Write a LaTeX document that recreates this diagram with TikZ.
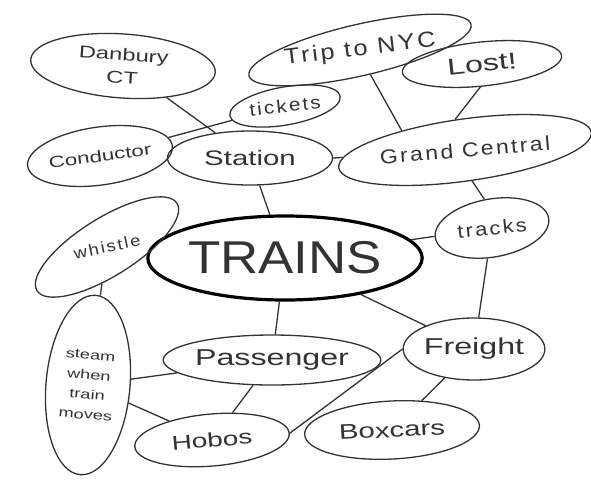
\documentclass[tikz,border=0pt]{standalone}
\usepackage{fontspec}
\setmainfont{Liberation Sans}
\newfontfamily\hand[FakeStretch=1.4]{Liberation Sans}
\newfontfamily\handS[FakeStretch=1.15,LetterSpace=12]{Liberation Sans}
\newfontfamily\handT[FakeStretch=1.15]{Liberation Sans}
\usetikzlibrary{shapes.geometric,calc}
\begin{document}
\begin{tikzpicture}[x=1pt,y=-1pt,
  bub/.style={ellipse,draw=black!80,line width=1.3pt,inner sep=0pt,align=center,text=black!80,font=\hand\fontsize{20}{21}\selectfont},
  fs/.style={font=\hand\fontsize{#1}{#1}\selectfont},
  fsp/.style={font=\handS\fontsize{#1}{#1}\selectfont},
  link/.style={draw=black!80,line width=1.3pt}]
\useasboundingbox[fill=white] (0,0) rectangle (591,488);
% nodes
\node[bub,fs=17,minimum width=185pt,minimum height=64pt,rotate=-4] (danbury) at (123,66) {Danbury\\[6pt]CT};
\node[bub,fsp=22,minimum width=228pt,minimum height=48pt,rotate=13] (trip) at (360,50) {\rotatebox{-6}{Trip to NYC}};
\node[bub,fs=23,minimum width=160pt,minimum height=44pt,rotate=6] (lost) at (482,64) {Lost!};
\node[bub,fsp=18,minimum width=112pt,minimum height=38pt,rotate=10] (tickets) at (285,106) {\rotatebox{-4}{tickets}};
\node[bub,fs=16,minimum width=125pt,minimum height=58pt,rotate=8] (conductor) at (100,156) {Conductor};
\node[bub,fs=21,minimum width=165pt,minimum height=54pt] (station) at (250,158) {Station};
\node[bub,fsp=20,minimum width=255pt,minimum height=62pt,rotate=8] (grand) at (465,150) {\rotatebox{-3}{Grand Central}};
\node[bub,fsp=19,minimum width=115pt,minimum height=58pt,rotate=10] (tracks) at (492,228) {\rotatebox{-4}{tracks}};
\node[bub,minimum width=260pt,minimum height=84pt,line width=3.2pt,draw=black,font=\handT\fontsize{46}{48}\selectfont] (trains) at (285,258) {TRAINS};
\node[bub,fsp=16,minimum width=165pt,minimum height=58pt,rotate=32] (whistle) at (107,247) {\rotatebox{-20}{whistle}};
\node[bub,minimum width=84pt,minimum height=180pt,rotate=-5,font=\hand\fontsize{13}{20}\selectfont] (steam) at (88,385) {steam\\when\\train\\moves};
\node[bub,fs=23,minimum width=205pt,minimum height=50pt] (passenger) at (272,360) {Passenger};
\node[bub,fs=23,minimum width=135pt,minimum height=62pt] (freight) at (474,349) {Freight};
\node[bub,fs=20,minimum width=155pt,minimum height=52pt,rotate=5] (hobos) at (212,440) {Hobos};
\node[bub,fs=21,minimum width=175pt,minimum height=58pt,rotate=3] (boxcars) at (392,430) {Boxcars};
% connectors
\draw[link] (danbury) -- (station);
\draw[link] (conductor) -- (tickets);
\draw[link] (station) -- (trains);
\draw[link] (station.east) -- (grand);
\draw[link] (trip.-80) -- (grand.155);
\draw[link] (lost.-100) -- (grand.100);
\draw[link] (grand.-85) -- (tracks.95);
\draw[link] (tracks) -- (trains);
\draw[link] (tracks) -- (freight);
\draw[link] (trains) -- (freight);
\draw[link] (trains) -- (passenger);
\draw[link] (whistle) -- (steam);
\draw[link] (steam) -- (passenger);
\draw[link] (steam) -- (hobos);
\draw[link] (passenger) -- (hobos);
\draw[link] (freight.west) -- (hobos.east);
\draw[link] (freight) -- (boxcars);
\end{tikzpicture}
\end{document}
